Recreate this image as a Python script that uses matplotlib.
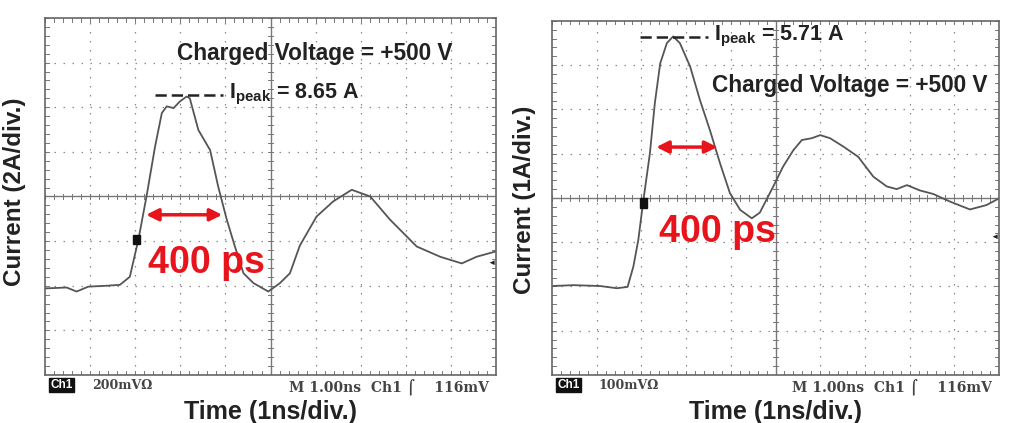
import numpy as np
import matplotlib.pyplot as plt

# waveforms in screen divisions (x: 0..10, y: 0..8)
x_left = [0, 0.48, 0.70, 0.96, 1.37, 1.66, 1.88, 2.07, 2.25, 2.44, 2.59, 2.70, 2.85, 2.99, 3.14,
          3.21, 3.40, 3.66, 3.84, 4.03, 4.21, 4.40, 4.62, 4.95, 5.21, 5.43, 5.65, 6.02, 6.39,
          6.80, 7.21, 7.65, 8.24, 8.76, 9.24, 9.57, 10.0]
y_left = [1.94, 1.96, 1.87, 1.98, 2.0, 2.02, 2.20, 3.03, 4.0, 5.12, 5.87, 6.02, 5.98, 6.13, 6.24,
          6.20, 5.49, 5.04, 4.22, 3.48, 2.88, 2.28, 2.06, 1.87, 2.06, 2.28, 2.90, 3.55, 3.89,
          4.15, 4.0, 3.48, 2.88, 2.65, 2.50, 2.65, 2.77]

x_right = [0, 0.48, 1.08, 1.45, 1.69, 1.82, 1.93, 2.04, 2.19, 2.30, 2.42, 2.57, 2.71, 2.86, 3.09,
           3.31, 3.53, 3.76, 3.98, 4.21, 4.47, 4.65, 4.95, 5.17, 5.40, 5.59, 5.81, 6.0, 6.22,
           6.52, 6.85, 7.19, 7.49, 7.71, 7.94, 8.23, 8.53, 8.90, 9.35, 9.72, 10.0]
y_right = [2.01, 2.03, 2.01, 1.96, 1.99, 2.45, 3.05, 3.92, 5.01, 6.14, 7.04, 7.50, 7.65, 7.50, 6.97,
           6.21, 5.54, 4.78, 4.11, 3.73, 3.54, 3.67, 4.26, 4.71, 5.08, 5.31, 5.35, 5.42, 5.35,
           5.16, 4.93, 4.48, 4.26, 4.20, 4.29, 4.17, 4.09, 3.92, 3.74, 3.84, 3.99]

ylabels = ['Current (2A/div.)', 'Current (1A/div.)']
scales = ['200mV\u03a9', '100mV\u03a9']
peaks = ['8.65 A', '5.71 A']

plt.rcParams['font.family'] = ['Liberation Sans', 'DejaVu Sans']
fig = plt.figure(figsize=(10.14, 4.23), dpi=100)
axL = fig.add_axes([0.0444, 0.1135, 0.4448, 0.844])
axR = fig.add_axes([0.5444, 0.1135, 0.4408, 0.837])

gc = '#8a8a8a'


def scope(ax):
    ax.set_xlim(0, 10)
    ax.set_ylim(0, 8)
    ax.set_xticks([])
    ax.set_yticks([])
    for s in ax.spines.values():
        s.set_color('#666666')
        s.set_linewidth(1.2)
    for i in range(1, 10):
        if i != 5:
            ax.plot([i, i], [0, 8], color=gc, lw=0.9, ls=(0, (1.2, 6)))
    for j in range(1, 8):
        if j != 4:
            ax.plot([0, 10], [j, j], color=gc, lw=0.9, ls=(0, (1.2, 6)))
    ax.plot([5, 5], [0, 8], color='#777777', lw=1.0)
    ax.plot([0, 10], [4, 4], color='#777777', lw=1.0)
    mx = np.arange(0, 10.01, 0.2)
    my = np.arange(0, 8.01, 0.2)
    for t in mx:
        ax.plot([t, t], [3.94, 4.06], color='#777777', lw=0.7)
        ax.plot([t, t], [0, 0.08], color='#777777', lw=0.7)
        ax.plot([t, t], [7.92, 8], color='#777777', lw=0.7)
    for t in my:
        ax.plot([4.94, 5.06], [t, t], color='#777777', lw=0.7)
        ax.plot([0, 0.08], [t, t], color='#777777', lw=0.7)
        ax.plot([9.92, 10], [t, t], color='#777777', lw=0.7)


for ax in (axL, axR):
    scope(ax)

axL.plot(x_left, y_left, color='#555555', lw=1.3)
axR.plot(x_right, y_right, color='#555555', lw=1.3)

red = '#e8141c'
tkw = dict(fontweight='bold', color='#222222')
fs = 15.5

# left annotations
axL.text(2.92, 7.21, 'Charged Voltage = +500 V', fontsize=16.3, va='center', ha='left', **tkw)
axL.plot([2.44, 3.95], [6.28, 6.28], color='#222222', lw=1.8, ls=(0, (4.5, 2)))
axL.text(4.08, 6.28, r'I$_{\mathregular{peak}}$ = ' + peaks[0], fontsize=fs, va='center', ha='left', **tkw)
axL.annotate('', xy=(2.18, 3.59), xytext=(3.99, 3.59),
             arrowprops=dict(arrowstyle='<|-|>', color=red, lw=2.5, mutation_scale=18))
axL.text(3.58, 2.5, '400 ps', fontsize=27, color=red, fontweight='bold', ha='center', va='center')
axL.text(2.03, 3.04, '1', fontsize=6, color='#111111', ha='center', va='center',
         bbox=dict(boxstyle='square,pad=0.15', fc='#111111', ec='#111111'))
axL.text(9.9, 2.5, '\u25c4', fontsize=6, color='#222222', ha='center', va='center')

# right annotations
axR.plot([1.97, 3.50], [7.64, 7.64], color='#222222', lw=1.8, ls=(0, (4.5, 2)))
axR.text(3.63, 7.64, r'I$_{\mathregular{peak}}$ = ' + peaks[1], fontsize=fs, va='center', ha='left', **tkw)
axR.text(3.57, 6.55, 'Charged Voltage = +500 V', fontsize=16.3, va='center', ha='left', **tkw)
axR.annotate('', xy=(2.27, 5.15), xytext=(3.76, 5.15),
             arrowprops=dict(arrowstyle='<|-|>', color=red, lw=2.5, mutation_scale=18))
axR.text(3.69, 3.24, '400 ps', fontsize=27, color=red, fontweight='bold', ha='center', va='center')
axR.text(2.05, 3.89, '1', fontsize=6, color='#111111', ha='center', va='center',
         bbox=dict(boxstyle='square,pad=0.15', fc='#111111', ec='#111111'))
axR.text(9.9, 3.1, '\u25c4', fontsize=6, color='#222222', ha='center', va='center')

# scope status line, axis labels
for ax, sc in ((axL, scales[0]), (axR, scales[1])):
    ax.text(0.012, -0.012, 'Ch1', transform=ax.transAxes, fontsize=8.5, fontweight='bold',
            color='white', va='top', ha='left',
            bbox=dict(boxstyle='square,pad=0.1', fc='#111111', ec='#111111'))
    ax.text(0.105, -0.012, sc, transform=ax.transAxes, fontsize=9, color='#444444',
            va='top', ha='left', family='DejaVu Serif', fontweight='bold')
    ax.text(0.985, -0.012, 'M 1.00ns  Ch1 \u2320    116mV', transform=ax.transAxes, fontsize=10,
            color='#444444', va='top', ha='right', family='DejaVu Serif', fontweight='bold')
    ax.text(0.5, -0.07, 'Time (1ns/div.)', transform=ax.transAxes, fontsize=18,
            fontweight='bold', color='#222222', va='top', ha='center')

fig.text(15 / 1014, 1 - 192 / 423, ylabels[0], rotation=90, fontsize=17.5, fontweight='bold',
         color='#222222', ha='center', va='center')
fig.text(524 / 1014, 1 - 200 / 423, ylabels[1], rotation=90, fontsize=17.5, fontweight='bold',
         color='#222222', ha='center', va='center')

fig.savefig('out.png', dpi=100)
